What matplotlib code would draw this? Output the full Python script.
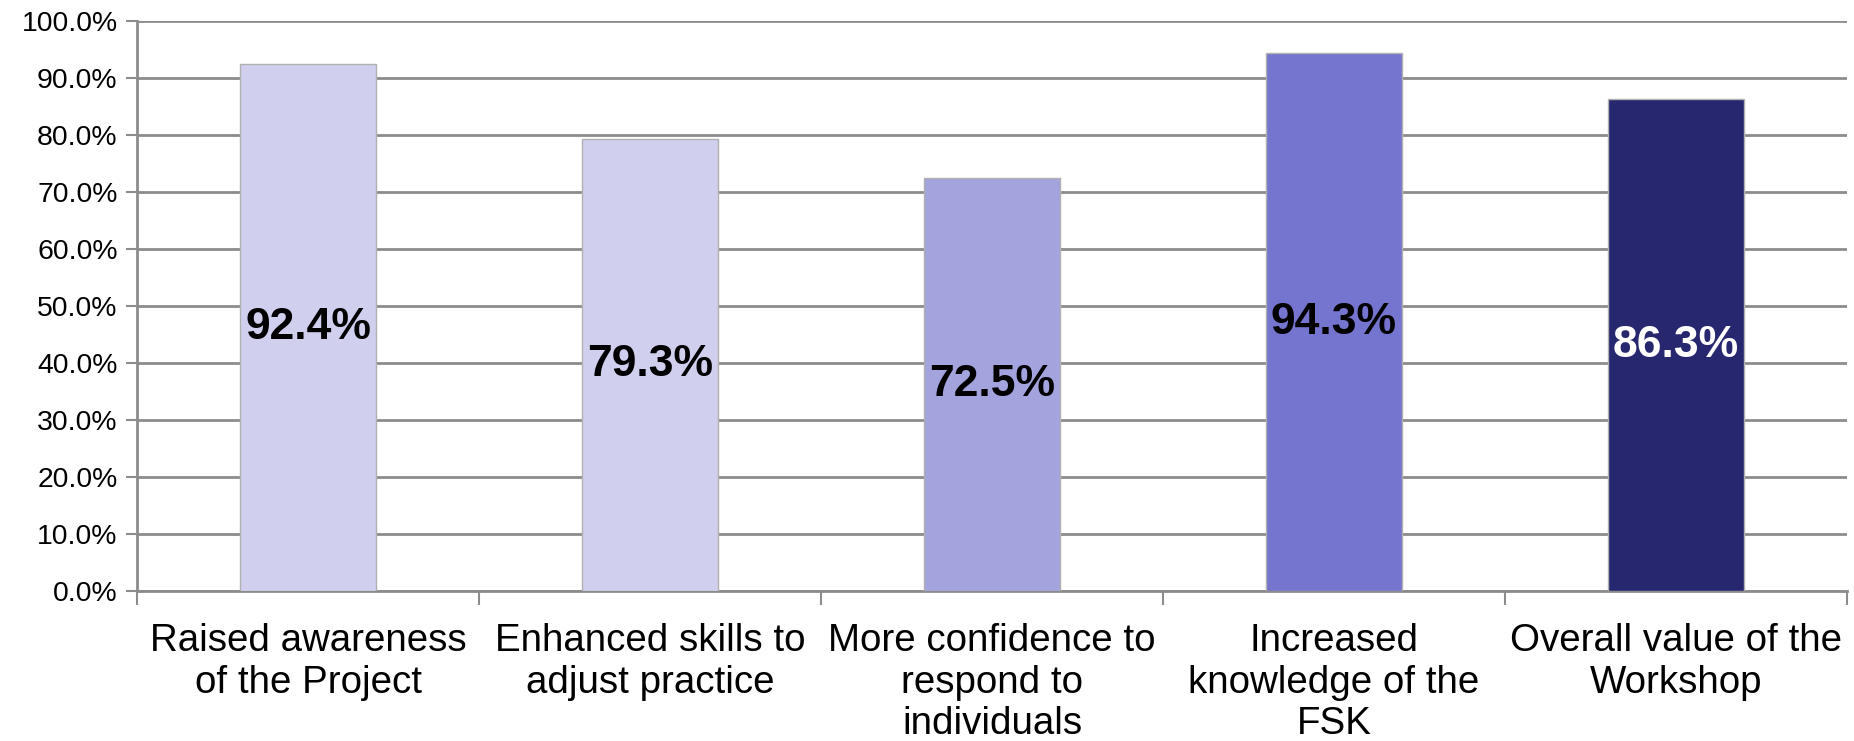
"""
Workshop evaluation - share of positive responses
"""

import numpy as np
import matplotlib.pyplot as plt
from matplotlib.ticker import FuncFormatter

categories = ["Raised awareness\nof the Project",
              "Enhanced skills to\nadjust practice",
              "More confidence to\nrespond to\nindividuals",
              "Increased\nknowledge of the\nFSK",
              "Overall value of the\nWorkshop"]
values = [92.4, 79.3, 72.5, 94.3, 86.3]
bar_colors = ["#D0D0EE", "#D0D0EE", "#A3A3DE", "#7574CF", "#272770"]
label_colors = ["black", "black", "black", "black", "white"]

plt.rcParams['font.family'] = ['Liberation Sans', 'DejaVu Sans']

fig = plt.figure(figsize=(18.54, 7.41), dpi=100)
ax = fig.add_axes([0.0739, 0.2024, 0.9223, 0.7693])

x = np.arange(len(values)) + 0.5
ax.bar(x, values, width=0.4, color=bar_colors, edgecolor="#B0B0B0",
       linewidth=1, zorder=3)

for xi, v, c in zip(x, values, label_colors):
    ax.text(xi, v / 2, "%.1f%%" % v, ha="center", va="center",
            fontsize=32, fontweight="bold", color=c, zorder=4)

ax.set_xlim(0, len(values))
ax.set_ylim(0, 100)
ax.set_yticks(np.arange(0, 101, 10))
ax.yaxis.set_major_formatter(FuncFormatter(lambda v, p: "%.1f%%" % v))
ax.yaxis.grid(True, color="#8C8C8C", linewidth=2, zorder=0)

# category boundaries as major ticks, labels on the minor ticks
ax.set_xticks(np.arange(0, len(values) + 1))
ax.set_xticklabels([])
ax.set_xticks(x, minor=True)
ax.set_xticklabels(categories, minor=True, fontsize=27.7)
ax.tick_params(axis="x", which="major", length=10, width=1.5, color="#8C8C8C")
ax.tick_params(axis="x", which="minor", length=0, pad=23)
ax.tick_params(axis="y", length=8, width=1.5, color="#8C8C8C", labelsize=20.4, pad=6)

for s in ["top", "right"]:
    ax.spines[s].set_visible(False)
for s in ["left", "bottom"]:
    ax.spines[s].set_color("#8C8C8C")
    ax.spines[s].set_linewidth(2)

plt.savefig("out.png", dpi=100)
